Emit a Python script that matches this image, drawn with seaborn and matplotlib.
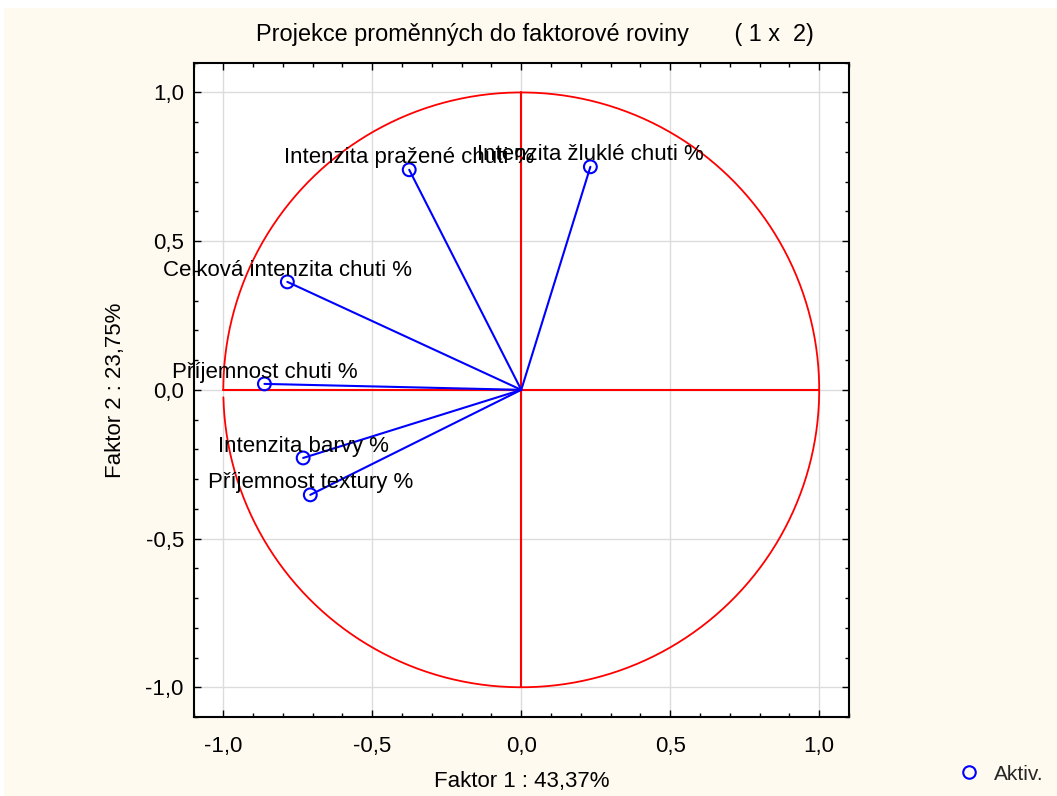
import numpy as np
import pandas as pd
import matplotlib
matplotlib.use("Agg")
import matplotlib.pyplot as plt
import seaborn as sns
from matplotlib import font_manager
from matplotlib.ticker import MultipleLocator, FuncFormatter
from matplotlib.patches import Rectangle
from matplotlib.lines import Line2D

# ---- data ----
variables = [
    "Intenzita pražené chuti %",
    "Intenzita žluklé chuti %",
    "Celková intenzita chuti %",
    "Příjemnost chuti %",
    "Intenzita barvy %",
    "Příjemnost textury %",
]
factor1 = [-0.376, 0.232, -0.785, -0.862, -0.732, -0.708]
factor2 = [0.740, 0.750, 0.363, 0.020, -0.229, -0.353]
title_text = "Projekce proměnných do faktorové roviny       ( 1 x  2)"
xlabel_text = "Faktor 1 : 43,37%"
ylabel_text = "Faktor 2 : 23,75%"
legend_text = "Aktiv."

df = pd.DataFrame({"var": variables, "f1": factor1, "f2": factor2})

sns.set_theme(style="white")
names = {f.name for f in font_manager.fontManager.ttflist}
narrow = "Liberation Sans Narrow" in names
plt.rcParams["font.family"] = ["Liberation Sans", "DejaVu Sans"]
nfam = ["Liberation Sans Narrow", "Liberation Sans", "DejaVu Sans"] if narrow else ["Liberation Sans", "DejaVu Sans"]
nsize = 19 if narrow else 16
tsize = 20 if narrow else 16.9

cream = "#FFFAF0"
fig = plt.figure(figsize=(10.57, 7.96), dpi=100, facecolor="white")
fig.patches.append(Rectangle((4 / 1057, 0), 1, (796 - 8) / 796, transform=fig.transFigure,
                             facecolor=cream, edgecolor="none", zorder=-10))
ax = fig.add_axes([193.5 / 1057, 79 / 796, (849 - 193.5) / 1057, (717 - 62.7) / 796])
ax.set_facecolor("white")

# circle and axes lines
theta = np.linspace(np.pi + 0.025, 3 * np.pi, 600)
ax.plot(np.cos(theta), np.sin(theta), color="#FF0000", lw=1.3, zorder=2)
ax.plot([-1, 1], [0, 0], color="#FF0000", lw=1.5, zorder=2)
ax.plot([0, 0], [-1, 1], color="#FF0000", lw=1.5, zorder=2)

# vectors
for _, r in df.iterrows():
    ax.plot([0, r.f1], [0, r.f2], color="#0000FF", lw=1.5, zorder=3)
sns.scatterplot(data=df, x="f1", y="f2", ax=ax, marker="o", s=85,
                facecolors="none", edgecolor="#0000FF", linewidth=1.5, zorder=4, legend=False)
for _, r in df.iterrows():
    ax.annotate(r["var"], (r.f1, r.f2), xytext=(0, 1), textcoords="offset points",
                ha="center", va="bottom", fontsize=16, color="black", zorder=5)

ax.set_xlim(-1.1, 1.1)
ax.set_ylim(-1.1, 1.1)
ax.xaxis.set_major_locator(MultipleLocator(0.5))
ax.yaxis.set_major_locator(MultipleLocator(0.5))
ax.xaxis.set_minor_locator(MultipleLocator(0.1))
ax.yaxis.set_minor_locator(MultipleLocator(0.1))
fmt = FuncFormatter(lambda v, p: f"{v:.1f}".replace(".", ",").replace("-0,0", "0,0"))
ax.xaxis.set_major_formatter(fmt)
ax.yaxis.set_major_formatter(fmt)
ax.grid(True, which="major", color="#DCDCDC", lw=1.0, zorder=0)
ax.set_axisbelow(True)
ax.tick_params(which="both", direction="in", top=True, right=True, bottom=True, left=True,
               color="black", width=1.0)
ax.tick_params(which="major", length=5, labelsize=nsize, labelcolor="black")
ax.tick_params(axis="x", which="major", pad=14)
ax.tick_params(axis="y", which="major", pad=7)
ax.tick_params(which="minor", length=3)
for lab in ax.get_xticklabels() + ax.get_yticklabels():
    lab.set_family(nfam)
for s in ax.spines.values():
    s.set_color("black")
    s.set_linewidth(1.5)

ax.set_xlabel(xlabel_text, fontsize=nsize, family=nfam, labelpad=10, color="black")
ax.set_ylabel(ylabel_text, fontsize=nsize, family=nfam, labelpad=14, color="black")
fig.text(535 / 1057, 1 - 35 / 796, title_text, ha="center", va="center",
         fontsize=tsize, family=nfam, color="black")

# legend
leg_handle = Line2D([], [], marker="o", ls="none", markerfacecolor="none",
                    markeredgecolor="#0000FF", markeredgewidth=1.5, markersize=9)
fig.legend([leg_handle], [legend_text], loc="center", bbox_to_anchor=(1000 / 1057, 1 - 774 / 796),
           frameon=False, fontsize=15, handletextpad=0.6, handlelength=1.2)

fig.savefig("out.png", dpi=100, facecolor=fig.get_facecolor())
